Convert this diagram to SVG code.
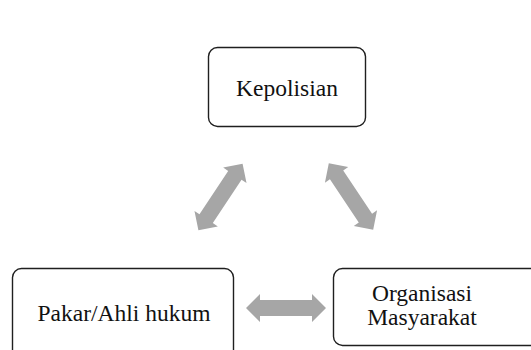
<svg xmlns="http://www.w3.org/2000/svg" width="531" height="350" viewBox="0 0 531 350">
  <style>
    .box { fill: #ffffff; stroke: #1f1f1f; stroke-width: 1.4; }
    .lbl { font-family: "Liberation Serif", "Times New Roman", serif; font-size: 23.5px; fill: #111111; text-anchor: middle; }
    .arr { fill: #a6a6a6; }
  </style>
  <defs>
    <path id="dbl" d="M -40 0 L -26 -14 L -26 -8 L 26 -8 L 26 -14 L 40 0 L 26 14 L 26 8 L -26 8 L -26 14 Z"/>
  </defs>
  <rect width="531" height="350" fill="#ffffff"/>
  <g id="connectors">
    <use href="#dbl" class="arr" transform="translate(286 308)"/>
    <use href="#dbl" class="arr" transform="translate(220.5 197) rotate(-56.5)"/>
    <use href="#dbl" class="arr" transform="translate(351 196.5) rotate(56.3)"/>
  </g>
  <g id="kepolisian">
    <rect class="box" x="208.5" y="47.5" width="157" height="79" rx="9"/>
    <text class="lbl" x="287" y="96">Kepolisian</text>
  </g>
  <g id="pakar">
    <rect class="box" x="12.5" y="268.5" width="221" height="100" rx="9"/>
    <text class="lbl" x="124" y="321">Pakar/Ahli hukum</text>
  </g>
  <g id="organisasi">
    <rect class="box" x="333.5" y="268.5" width="215" height="77" rx="9"/>
    <text class="lbl" x="422" y="301">Organisasi</text>
    <text class="lbl" x="422" y="325">Masyarakat</text>
  </g>
</svg>
